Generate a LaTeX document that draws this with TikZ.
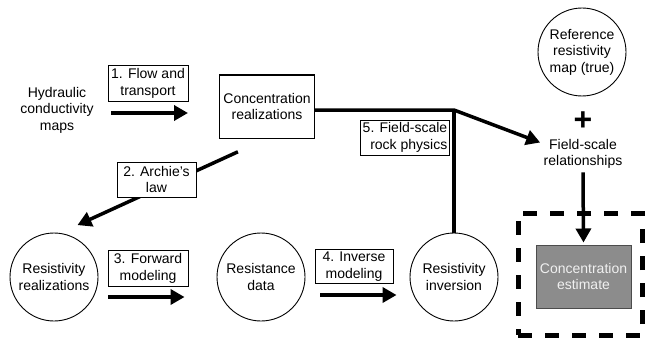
\documentclass[tikz,border=0pt]{standalone}
\usepackage{fontspec}
\setmainfont{Liberation Sans}
\usetikzlibrary{arrows.meta}

\begin{document}
\begin{tikzpicture}[x=1pt,y=-1pt,
  font=\fontsize{14}{16.5}\selectfont,
  proc/.style={draw,line width=1pt,fill=white,align=center,inner sep=2pt,
    minimum width=80pt,minimum height=36pt},
  blob/.style={draw,circle,line width=0.9pt,align=center,minimum size=88pt,inner sep=0pt},
  flow/.style={line width=3.5pt,-{Triangle[length=14pt,width=15pt]}}]
  \useasboundingbox (0,0) rectangle (645,345);

  % left part
  \node[align=center] (hyd) at (57,110) {Hydraulic\\conductivity\\maps};
  \node[proc] (flowlbl) at (148,83.5) {1. Flow and\\transport};
  \node[proc,minimum width=95pt,minimum height=63pt] (conc) at (267,106.5) {Concentration\\realizations};
  \node[blob] (real) at (54,277) {Resistivity\\realizations};
  \node[proc] (fwdlbl) at (148,268.5) {3. Forward\\modeling};
  \node[blob] (data) at (261,277) {Resistance\\data};
  \node[proc,minimum width=78pt,minimum height=33pt] (invlbl) at (354,266.5) {4. Inverse\\modeling};
  \node[blob] (inv) at (454,277) {Resistivity\\inversion};
  \node[proc,align=right,minimum width=83pt,minimum height=35pt] (rocklbl) at (405,137.5) {5. Field-scale\\rock physics};

  % right part
  \node[blob] (ref) at (582,52) {Reference\\resistivity\\map (true)};
  \node[font=\fontsize{32}{32}\selectfont\bfseries,inner sep=0pt] (plus) at (583,121) {+};
  \node[align=center] (fsr) at (583,154) {Field-scale\\relationships};
  \node[draw,line width=5pt,dash pattern=on 14pt off 13pt,
    minimum width=124pt,minimum height=122pt] (frame) at (580,274) {};
  \node[draw=black!70,fill=black!45,text=black!6,line width=1pt,align=center,
    minimum width=95pt,minimum height=63pt] (est) at (583.5,276.5) {Concentration\\estimate};

  % connectors
  \draw[flow,shorten <=14pt,shorten >=31pt] ([yshift=-3pt]hyd.east) -- ([yshift=-3pt]hyd.east -| conc.west);
  \draw[flow,shorten <=32pt,shorten >=19pt] (conc.south) -- (real.82);
  \node[proc,minimum width=79pt,minimum height=35pt] (archie) at (156.5,179.5) {2. Archie's\\law};
  \draw[flow,shorten <=10pt,shorten >=32pt] ([yshift=-20pt]real.east) -- ([yshift=-20pt]data.west);
  \draw[flow,shorten <=15pt,shorten >=13pt] ([yshift=-18pt]data.east) -- ([yshift=-18pt]inv.west);
  \coordinate (junc) at (454,110);
  \draw[line width=3.5pt] (inv.north) -- (junc);
  \draw[flow] (conc.east |- junc) -- (junc) -- (fsr.165);
  \draw[flow,shorten >=2pt] (fsr.south) -- (est.north);
\end{tikzpicture}
\end{document}
